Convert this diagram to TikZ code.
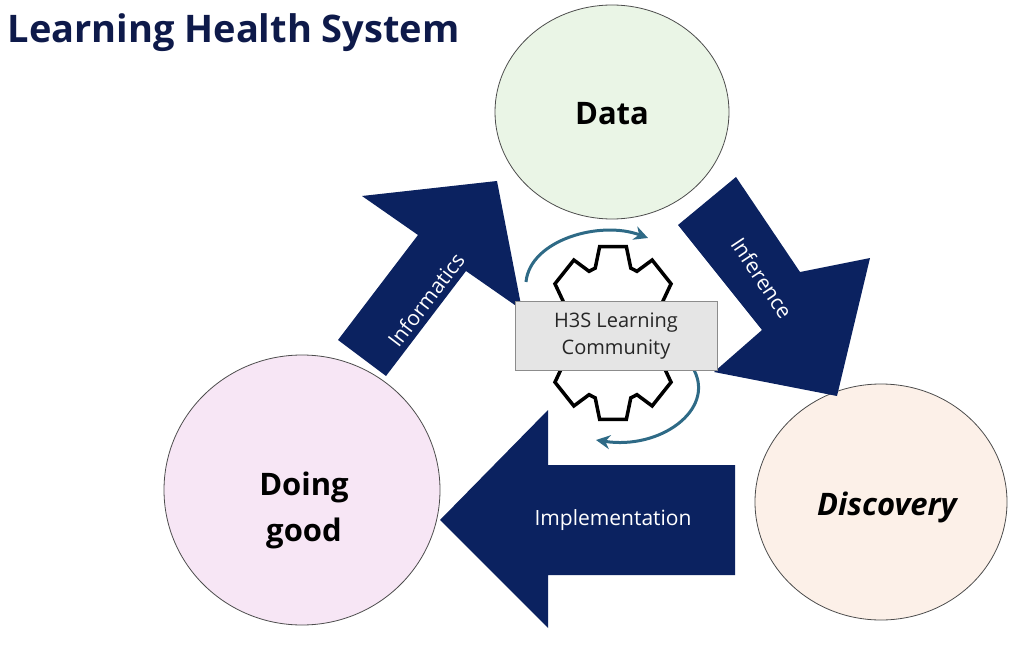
\documentclass[tikz,border=0pt]{standalone}
\usepackage{fontspec}
\setmainfont{Open Sans}
\usetikzlibrary{arrows.meta}
\definecolor{navy}{HTML}{0B2260}
\definecolor{titlec}{HTML}{0E1A4A}
\definecolor{teal}{HTML}{2E6A86}
\tikzset{
 blob/.style={draw=black!70,line width=0.8pt},
 big/.style={fill=navy,draw=none},
 lab/.style={text=white,font=\fontsize{21}{24}\selectfont},
 ctext/.style={font=\bfseries\fontsize{31}{36}\selectfont,align=center},
 cyc/.style={draw=teal,line width=3pt,-{Stealth[length=14pt,width=14pt]}},
}
\begin{document}
\begin{tikzpicture}[x=1pt,y=-1pt]
\useasboundingbox (0,0) rectangle (1020,647);
\node[anchor=west,text=titlec,font=\bfseries\fontsize{38}{42}\selectfont] (title) at (4,33) {Learning Health System};
% circles
\draw[blob,fill={rgb,255:red,234;green,245;blue,230}] (612,112) ellipse [x radius=117,y radius=107];
\node[ctext] (data) at (612,114) {Data};
\draw[blob,fill={rgb,255:red,252;green,240;blue,232}] (881,502) ellipse [x radius=126,y radius=118];
\node[ctext,font=\bfseries\itshape\fontsize{31}{36}\selectfont] (disc) at (887,507) {Discovery};
\draw[blob,fill={rgb,255:red,247;green,230;blue,245}] (302,490) ellipse [x radius=138,y radius=135];
\node[ctext,font=\bfseries\fontsize{31}{46}\selectfont] (good) at (304,510) {Doing\\good};
% big arrows
\fill[big] (338,340) -- (418,235) -- (362,196) -- (497,181) -- (522,310) -- (466,271) -- (386,376) -- cycle;
\node[lab,rotate=52.7] (inf) at (426,300) {Informatics};
\fill[big] (678,225) -- (736,177) -- (800,272) -- (870,258) -- (837,396) -- (714,372) -- (762,330) -- cycle;
\node[lab,rotate=-56.3] (infer) at (762,278) {Inference};
\fill[big] (735,465) -- (548,465) -- (548,410) -- (440,520) -- (548,628) -- (548,575) -- (735,575) -- cycle;
\node[lab] (impl) at (613,520) {Implementation};
% gear
\draw[line width=3.5pt,line join=miter,fill=white]
 \foreach \i [count=\k] in {0,...,7}{
   \ifnum\k=1 ({613+70*0.78*cos(90+45*\i-19)},{333-88*0.78*sin(90+45*\i-19)}) \else -- ({613+70*0.78*cos(90+45*\i-19)},{333-88*0.78*sin(90+45*\i-19)}) \fi
   -- ({613+70*cos(90+45*\i-11)},{333-88*sin(90+45*\i-11)})
   -- ({613+70*cos(90+45*\i+11)},{333-88*sin(90+45*\i+11)})
   -- ({613+70*0.78*cos(90+45*\i+19)},{333-88*0.78*sin(90+45*\i+19)})
 } -- cycle;
% cycle arrows
\coordinate (c1) at (526,282);
\coordinate (c2) at (648,238);
\coordinate (c3) at (694,370);
\coordinate (c4) at (596,440);
\draw[cyc] (c1) .. controls (530,240) and (600,220) .. (c2);
\draw[cyc] (c3) .. controls (715,410) and (660,450) .. (c4);
\node[draw=black!45,fill=black!10,minimum width=202,minimum height=69,align=center,font=\fontsize{20}{27}\selectfont,text=black!85] (box) at (616,336) {H3S Learning\\Community};
\end{tikzpicture}
\end{document}
